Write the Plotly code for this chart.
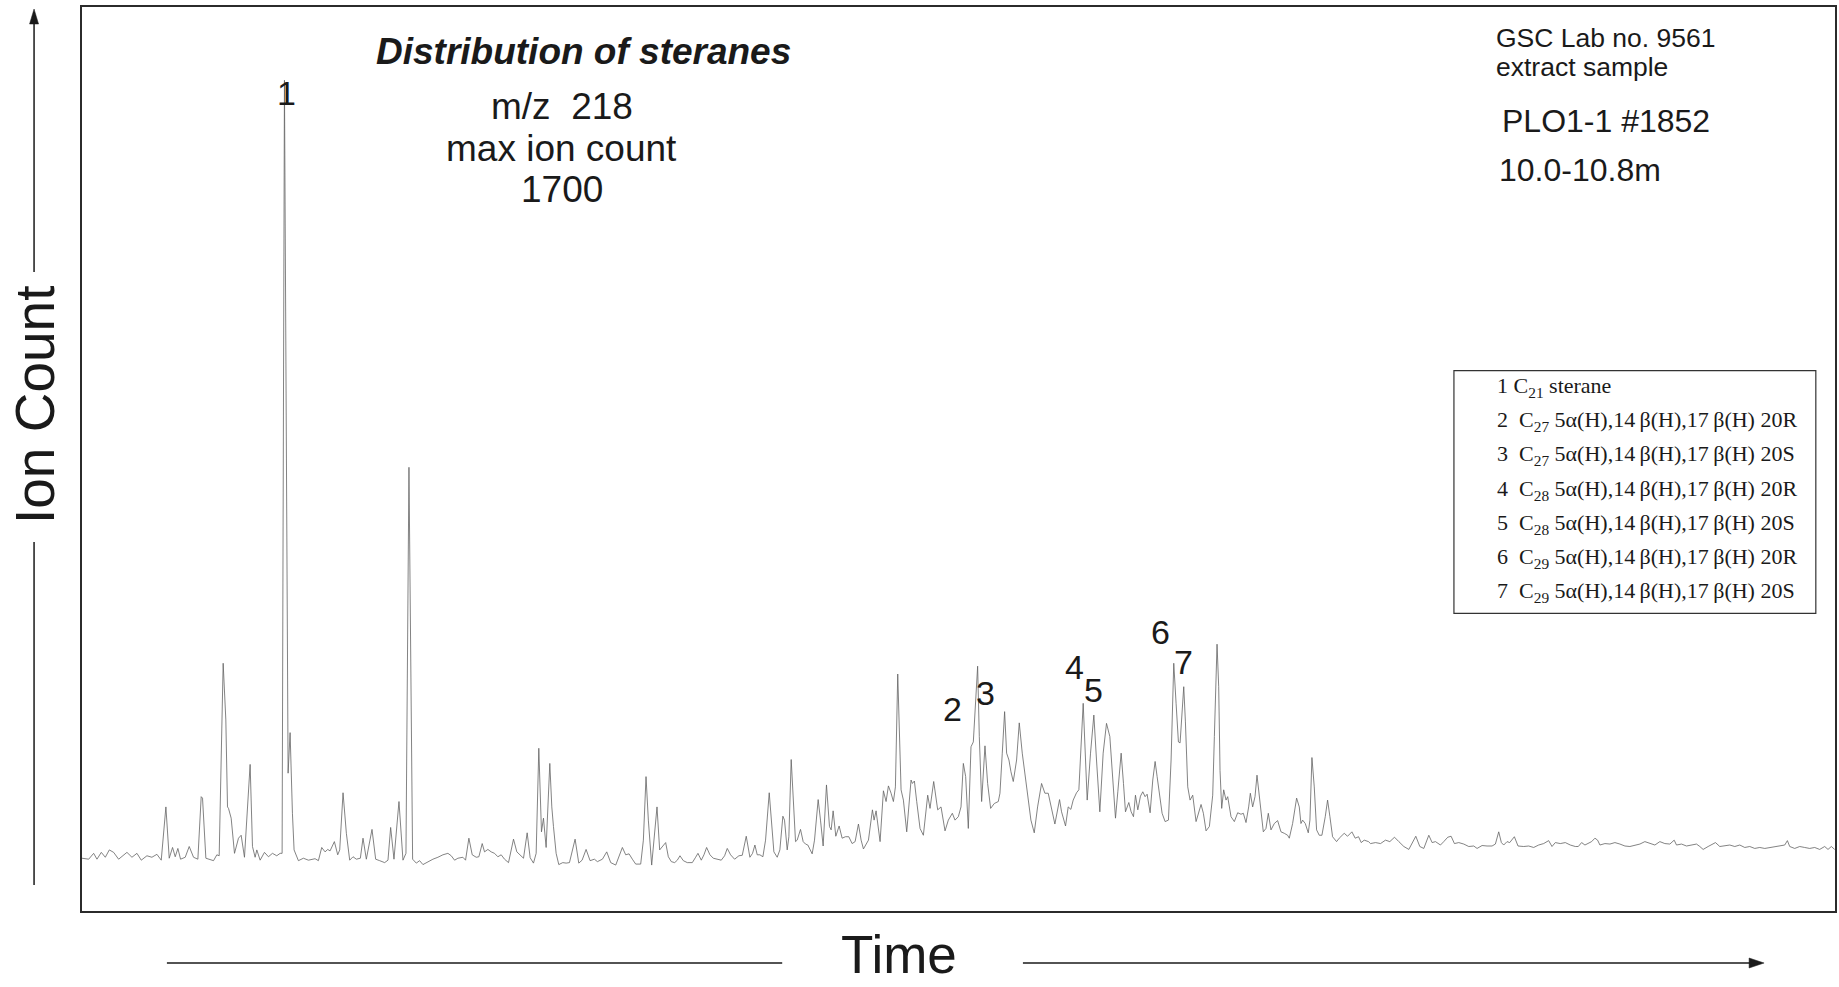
import plotly.graph_objects as go

# ---------------- data (m/z 218) ----------------
# retention position in scans, intensity in ion counts (max = 1700)
seg1_scan = [0, 20, 35, 45, 58, 70, 82, 95, 110, 135, 150, 165, 178, 195, 210, 225, 238, 252, 262, 272,
             280, 288, 296, 310, 322, 335, 348, 358, 362, 372, 395, 405, 412, 424, 432, 437, 440, 448, 458, 470,
             478, 488, 505, 512, 520, 525, 535, 548, 560, 572, 585, 595, 601, 608, 619, 625, 632, 637, 650, 665,
             680, 700, 710, 720, 730, 738, 745, 758, 768]
seg1_count = [108, 106, 118, 106, 120, 110, 125, 120, 106, 120, 110, 118, 104, 113, 110, 116, 104, 213, 108, 130,
              111, 128, 106, 110, 132, 110, 106, 234, 231, 108, 103, 115, 113, 507, 391, 213, 210, 190, 118, 149,
              155, 110, 300, 132, 110, 125, 104, 120, 111, 118, 113, 118, 118, 1700, 282, 365, 200, 125, 103, 108,
              104, 107, 103, 130, 121, 126, 123, 142, 115]

seg2_scan = [774, 784, 794, 804, 814, 824, 836, 844, 854, 871, 882, 894, 909, 919, 927, 937, 952, 964, 973, 982,
             993, 1004, 1014, 1024, 1039, 1054, 1069, 1084, 1099, 1109, 1119, 1129, 1144, 1152, 1162, 1172, 1184, 1192, 1202, 1209,
             1219, 1229, 1239, 1249, 1259, 1269, 1281, 1296, 1306, 1316, 1326, 1337, 1346, 1356, 1364, 1372, 1380, 1386, 1394, 1405,
             1411, 1416, 1424, 1432, 1444, 1454, 1464, 1481, 1492, 1502, 1514, 1526, 1539]
seg2_count = [125, 242, 159, 104, 111, 106, 108, 149, 106, 167, 106, 103, 99, 104, 171, 106, 224, 104, 118, 908,
              106, 98, 103, 95, 101, 106, 110, 115, 118, 113, 104, 108, 110, 104, 149, 115, 110, 111, 138, 121,
              126, 121, 118, 111, 115, 106, 99, 147, 121, 115, 108, 160, 109, 98, 118, 333, 162, 190, 130, 302,
              213, 173, 118, 95, 99, 98, 99, 147, 98, 104, 126, 103, 106]

seg3_scan = [1548, 1563, 1576, 1588, 1603, 1613, 1623, 1633, 1643, 1653, 1663, 1678, 1686, 1694, 1701, 1711, 1720, 1727, 1735, 1743,
             1753, 1761, 1770, 1780, 1788, 1796, 1806, 1818, 1833, 1843, 1850, 1860, 1868, 1876, 1886, 1896, 1908, 1920, 1930, 1938,
             1948, 1960, 1973, 1983, 1995, 2006, 2014, 2021, 2028, 2036, 2045, 2053, 2064, 2072, 2078, 2088, 2096, 2105, 2110, 2118,
             2123, 2130, 2138, 2143, 2148, 2158, 2166, 2173, 2180, 2186, 2193, 2200, 2211, 2218, 2226, 2236, 2245, 2250, 2256, 2264,
             2274, 2283, 2293, 2303, 2313]
seg3_count = [101, 106, 121, 99, 94, 111, 130, 115, 117, 106, 96, 96, 145, 275, 186, 94, 159, 213, 125, 132,
              140, 111, 101, 99, 104, 113, 103, 99, 99, 110, 118, 104, 115, 130, 115, 108, 106, 104, 113, 128,
              115, 106, 113, 114, 153, 110, 118, 135, 115, 115, 111, 145, 242, 173, 121, 110, 125, 194, 186, 125,
              152, 310, 213, 142, 145, 167, 142, 137, 135, 126, 117, 145, 228, 186, 133, 258, 173, 166, 205, 153,
              174, 149, 152, 152, 138]

seg4_scan = [2322, 2332, 2340, 2347, 2362, 2374, 2379, 2385, 2397, 2407, 2415, 2422, 2430, 2437, 2443, 2450, 2460, 2467, 2477, 2490,
             2494, 2500, 2507, 2517, 2527, 2540, 2547, 2558, 2570, 2580, 2592, 2602, 2614, 2622, 2632, 2640, 2647, 2654, 2662, 2670,
             2677, 2684, 2690, 2695, 2702, 2712, 2720, 2729, 2740, 2752, 2757, 2764, 2771, 2777, 2784, 2790, 2797, 2807, 2815, 2824,
             2832, 2840, 2850, 2860, 2870, 2882, 2892, 2902, 2912, 2922, 2936, 2942, 2954, 2962, 2970, 2977, 2987, 2994, 3007, 3019,
             3029, 3039, 3047, 3057, 3067, 3077, 3087, 3094]
seg4_count = [142, 178, 145, 127, 145, 207, 186, 205, 142, 246, 224, 256, 241, 224, 254, 485, 248, 227, 162, 268,
              261, 266, 224, 169, 155, 237, 210, 265, 207, 213, 164, 186, 200, 186, 193, 213, 302, 275, 169, 336,
              346, 425, 501, 357, 224, 338, 261, 210, 220, 224, 241, 323, 408, 323, 309, 285, 265, 309, 385, 323,
              278, 241, 186, 160, 213, 261, 241, 241, 207, 178, 228, 203, 174, 213, 208, 227, 242, 248, 425, 227,
              323, 401, 309, 203, 323, 384, 357, 295]

seg5_scan = [3096, 3104, 3111, 3121, 3128, 3134, 3144, 3151, 3158, 3164, 3171, 3179, 3186, 3193, 3199, 3208, 3216, 3223, 3229, 3236,
             3244, 3253, 3263, 3271, 3279, 3286, 3293, 3298, 3304, 3309, 3314, 3321, 3328, 3336, 3346, 3354, 3361, 3368, 3376, 3386,
             3396, 3401, 3409, 3414, 3418, 3423, 3429, 3436, 3441, 3451, 3461, 3471, 3481, 3488, 3496, 3504, 3509, 3516, 3523, 3529,
             3536, 3548, 3556, 3563, 3571, 3581, 3591, 3601, 3611, 3621, 3626, 3636, 3648, 3656, 3661, 3666, 3674, 3683, 3688, 3694,
             3701, 3708, 3716, 3724, 3734, 3741, 3748, 3756, 3768, 3776, 3791, 3801, 3814, 3824, 3834, 3842, 3851, 3864]
seg5_count = [268, 190, 244, 323, 261, 203, 222, 203, 193, 237, 207, 235, 244, 234, 239, 201, 268, 306, 275, 234,
              200, 183, 186, 309, 507, 425, 346, 344, 418, 459, 387, 254, 227, 237, 183, 203, 218, 200, 164, 173,
              237, 357, 546, 459, 288, 210, 248, 227, 234, 193, 183, 201, 198, 200, 181, 213, 241, 213, 234, 278,
              234, 162, 169, 200, 166, 179, 185, 162, 159, 155, 149, 179, 231, 213, 179, 186, 179, 160, 186, 314,
              254, 166, 155, 155, 193, 227, 193, 152, 142, 149, 159, 153, 162, 149, 152, 140, 145, 142]

seg6_scan = [3870, 3885, 3900, 3915, 3928, 3942, 3955, 3970, 3985, 3995, 4006, 4018, 4030, 4045, 4055, 4065, 4080, 4090, 4102, 4112,
             4122, 4135, 4150, 4165, 4180, 4190, 4205, 4220, 4235, 4245, 4255, 4263, 4270, 4280, 4288, 4302, 4313, 4330, 4345, 4360,
             4375, 4390, 4405, 4415, 4425, 4440, 4455, 4470, 4485]
seg6_count = [138, 140, 138, 145, 142, 151, 142, 132, 126, 138, 153, 132, 128, 155, 140, 142, 135, 142, 151, 153,
              138, 140, 137, 132, 133, 128, 134, 133, 133, 137, 162, 140, 135, 142, 140, 152, 133, 132, 133, 130,
              135, 138, 144, 132, 140, 138, 140, 135, 132]

seg7_scan = [4494, 4504, 4514, 4524, 4534, 4544, 4552, 4559, 4574, 4589, 4604, 4619, 4634, 4649, 4664, 4679, 4694, 4709, 4724, 4739,
             4754, 4769, 4782, 4789, 4804, 4819, 4834, 4849, 4859, 4869, 4884, 4894, 4906, 4919, 4934, 4949, 4964, 4979, 4994, 5009,
             5024, 5039, 5054, 5069, 5084, 5099, 5114, 5122, 5129, 5144, 5159, 5174, 5189, 5204, 5219, 5234, 5244, 5254, 5264]
seg7_count = [132, 140, 135, 138, 142, 149, 145, 135, 138, 137, 140, 137, 133, 132, 135, 137, 142, 138, 135, 142,
              138, 137, 145, 135, 137, 133, 135, 137, 132, 126, 132, 135, 140, 132, 133, 135, 132, 135, 130, 132,
              128, 130, 128, 130, 132, 133, 135, 144, 132, 128, 132, 130, 128, 130, 126, 132, 126, 132, 126]

peak_labels = ["1", "2", "3", "4", "5", "6", "7"]
legend_lines = [
    "1 C<sub>21</sub> sterane",
    "2\u00a0 C<sub>27</sub> 5α(H),14\u2009β(H),17\u2009β(H) 20R",
    "3\u00a0 C<sub>27</sub> 5α(H),14\u2009β(H),17\u2009β(H) 20S",
    "4\u00a0 C<sub>28</sub> 5α(H),14\u2009β(H),17\u2009β(H) 20R",
    "5\u00a0 C<sub>28</sub> 5α(H),14\u2009β(H),17\u2009β(H) 20S",
    "6\u00a0 C<sub>29</sub> 5α(H),14\u2009β(H),17\u2009β(H) 20R",
    "7\u00a0 C<sub>29</sub> 5α(H),14\u2009β(H),17\u2009β(H) 20S",
]

retention = seg1_scan + seg2_scan + seg3_scan + seg4_scan + seg5_scan + seg6_scan + seg7_scan
intensity = seg1_count + seg2_count + seg3_count + seg4_count + seg5_count + seg6_count + seg7_count

# ---------------- layout geometry (pixels) ----------------
W, H = 1839, 987
L, R, T, B = 82, 1837, 7, 911
SANS = "Liberation Sans, Arial, Helvetica, sans-serif"
SERIF = "Liberation Serif, Times New Roman, serif"
INK = "#1a1a1a"


def fx(p):
    return (p - L) / (R - L)


def fy(p):
    return (B - p) / (B - T)


fig = go.Figure()
fig.add_trace(go.Scatter(
    x=retention, y=intensity, mode="lines",
    line=dict(color="#636363", width=0.8),
    hoverinfo="skip", showlegend=False,
))

fig.update_layout(
    width=W, height=H,
    margin=dict(l=L, r=W - R, t=T, b=H - B, pad=0),
    paper_bgcolor="white", plot_bgcolor="white",
    showlegend=False,
)
axis_style = dict(showgrid=False, zeroline=False, showticklabels=False, ticks="",
                  showline=True, mirror=True, linecolor="#2b2b2b", linewidth=2, fixedrange=True)
fig.update_xaxes(range=[0, 5265], **axis_style)
fig.update_yaxes(range=[0, 1850], **axis_style)


def txt(s, x, y, size, family=SANS, xanchor="center", yanchor="middle", angle=0):
    fig.add_annotation(text=s, x=fx(x), y=fy(y), xref="paper", yref="paper",
                       showarrow=False, textangle=angle,
                       font=dict(family=family, size=size, color=INK),
                       xanchor=xanchor, yanchor=yanchor)


# header texts
txt("<b><i>Distribution of steranes</i></b>", 584, 52, 37)
txt("m/z\u00a0 218", 563, 107, 37)
txt("max ion count", 562, 149, 37)
txt("1700", 563, 190, 37)

txt("GSC Lab no. 9561", 1496, 38, 26.5, xanchor="left")
txt("extract sample", 1496, 67, 26.5, xanchor="left")
txt("PLO1-1 #1852", 1502, 121, 32, xanchor="left")
txt("10.0-10.8m", 1499, 170, 32, xanchor="left")

# peak numbers
peak_pos = [(287, 93), (953, 709), (987, 693), (1076, 667), (1095, 690), (1162, 632), (1185, 662)]
for lab, (px, py) in zip(peak_labels, peak_pos):
    txt(lab, px, py, 34)

# compound key box
fig.add_shape(type="rect", xref="paper", yref="paper",
              x0=fx(1455.5), x1=fx(1817.8), y0=fy(613.4), y1=fy(370.6),
              line=dict(color="#333333", width=1.2), fillcolor="rgba(0,0,0,0)")
row_y = [387, 421, 455, 490, 524, 558, 592]
for s, ry in zip(legend_lines, row_y):
    txt(s, 1497, ry, 22, family=SERIF, xanchor="left")

# axis captions with arrows
txt("Ion Count", 35, 405, 55, angle=-90)
txt("Time", 900, 986, 53, yanchor="bottom")

line_style = dict(color="#1a1a1a", width=1.5)
ax_x = 34
fig.add_shape(type="line", xref="paper", yref="paper", x0=fx(ax_x), x1=fx(ax_x), y0=fy(22), y1=fy(272), line=line_style)
fig.add_shape(type="line", xref="paper", yref="paper", x0=fx(ax_x), x1=fx(ax_x), y0=fy(542), y1=fy(885), line=line_style)
fig.add_shape(type="path", xref="paper", yref="paper",
              path=f"M {fx(ax_x)} {fy(9)} L {fx(ax_x - 4.5)} {fy(24)} L {fx(ax_x + 4.5)} {fy(24)} Z",
              fillcolor="#1a1a1a", line=dict(color="#1a1a1a", width=0.5))

ay_y = 963
fig.add_shape(type="line", xref="paper", yref="paper", x0=fx(167), x1=fx(783), y0=fy(ay_y), y1=fy(ay_y), line=line_style)
fig.add_shape(type="line", xref="paper", yref="paper", x0=fx(1024), x1=fx(1754), y0=fy(ay_y), y1=fy(ay_y), line=line_style)
fig.add_shape(type="path", xref="paper", yref="paper",
              path=f"M {fx(1766)} {fy(ay_y)} L {fx(1751)} {fy(ay_y - 5)} L {fx(1751)} {fy(ay_y + 5)} Z",
              fillcolor="#1a1a1a", line=dict(color="#1a1a1a", width=0.5))

fig.write_html("out.html", config={"displayModeBar": False})
